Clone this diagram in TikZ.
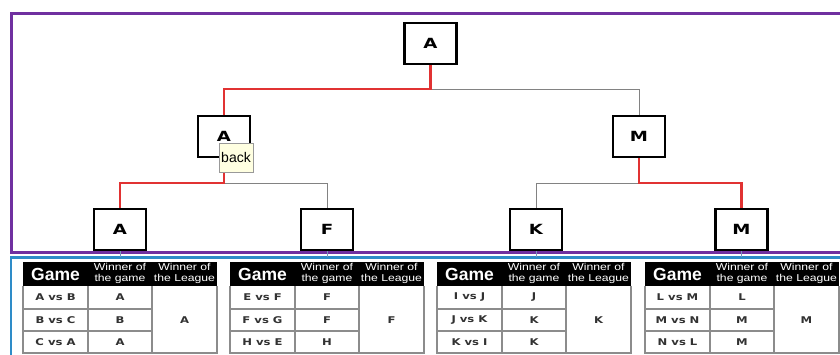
\documentclass[tikz,border=0pt]{standalone}
\usepackage{fontspec}
\setmainfont{Liberation Sans}
\newfontfamily\nodefont[FakeStretch=1.3]{DejaVu Sans}
\newfontfamily\cellfont[FakeStretch=1.25]{DejaVu Sans}
\newfontfamily\headfont[FakeStretch=1.22]{Liberation Sans}
\usetikzlibrary{shadows}
\definecolor{framepurple}{RGB}{112,48,160}
\definecolor{frameblue}{RGB}{46,140,200}
\definecolor{winred}{RGB}{225,50,50}
\definecolor{losegray}{RGB}{130,130,130}
\definecolor{gridgray}{RGB}{140,140,140}
\definecolor{celltext}{RGB}{50,50,50}
\definecolor{tipfill}{RGB}{255,255,225}
\definecolor{ticklc}{RGB}{120,150,185}
\tikzset{
  tnode/.style={draw=black, line width=2.2pt, fill=white, minimum width=52pt, minimum height=41pt,
    inner sep=0pt, font=\nodefont\bfseries\fontsize{14}{15}\selectfont},
  redline/.style={draw=winred, line width=2.4pt},
  grayline/.style={draw=losegray, line width=1pt},
  tickline/.style={draw=ticklc, line width=0.8pt},
  gridline/.style={draw=gridgray, line width=1.4pt},
  gamehead/.style={text=white, inner sep=0pt, font=\bfseries\fontsize{17.5}{18}\selectfont},
  winhead/.style={text=white, inner sep=0pt, align=center, font=\headfont\fontsize{10}{10.8}\selectfont},
  cell/.style={text=celltext, inner sep=0pt, font=\cellfont\bfseries\fontsize{9.3}{10}\selectfont},
  tooltip/.style={draw=gray!80, fill=tipfill, minimum width=34pt, minimum height=29pt, inner sep=0pt,
    font=\fontsize{14}{15}\selectfont, drop shadow={opacity=0.25, shadow xshift=1.2pt, shadow yshift=-1.2pt}}
}
\newcommand{\lgtable}[9]{%
\begin{scope}[shift={(#2,0)}]
  \fill[black] (0,262) rectangle (194,286);
  \node[gamehead] (#1-h1) at (32.5,274.5) {Game};
  \node[winhead] (#1-h2) at (97,273.5) {Winner of\\the game};
  \node[winhead] (#1-h3) at (161.5,273.5) {Winner of\\the League};
  \draw[gridline] (0,286) -- (0,354) (65,286) -- (65,354) (129,286) -- (129,354) (194,286) -- (194,354);
  \draw[gridline] (0,309) -- (129,309) (0,331) -- (129,331) (0,353) -- (194,353);
  \node[cell] (#1-g1) at (32.5,297.5) {#3};
  \node[cell] (#1-w1) at (97,297.5) {#4};
  \node[cell] (#1-g2) at (32.5,320) {#5};
  \node[cell] (#1-w2) at (97,320) {#6};
  \node[cell] (#1-g3) at (32.5,342) {#7};
  \node[cell] (#1-w3) at (97,342) {#8};
  \node[cell] (#1-lg) at (161.5,320) {#9};
\end{scope}}
\begin{document}
\begin{tikzpicture}[x=1pt,y=-1pt]
\useasboundingbox (0,0) rectangle (840,354);
\clip (0,0) rectangle (840,354);
\fill[white] (0,0) rectangle (840,354);
% frames
\draw[framepurple, line width=3pt] (11,13) rectangle (870,252);
\draw[frameblue, line width=2.4pt] (11,257.5) rectangle (870,420);
\coordinate (btop) at (0,257);
% tree nodes
\node[tnode] (top) at (430.5,43.5) {A};
\node[tnode] (mA) at (224,136.5) {A};
\node[tnode] (mM) at (639,136.5) {M};
\node[tnode] (bA) at (120,229.5) {A};
\node[tnode] (bF) at (327,229.5) {F};
\node[tnode] (bK) at (536,229.5) {K};
\node[tnode] (bM) at (741.5,229.5) {M};
% connectors
\draw[grayline] (top.south) ++(0,24) -| (mM.north);
\draw[redline] (top.south) -- ++(0,24) -| (mA.north);
\draw[grayline] (mA.south) ++(0,25) -| (bF.north);
\draw[redline] (mA.south) -- ++(0,25) -| (bA.north);
\draw[grayline] (mM.south) ++(0,25) -| (bK.north);
\draw[redline] (mM.south) -- ++(0,25) -| (bM.north);
\foreach \n in {bA,bF,bK,bM} \draw[tickline] (\n.south) -- (\n.south |- btop);
% tooltip
\node[tooltip] (tip) at (236,157.5) {back};
% tables
\lgtable{t1}{23}{A vs B}{A}{B vs C}{B}{C vs A}{A}{A}
\lgtable{t2}{230}{E vs F}{F}{F vs G}{F}{H vs E}{H}{F}
\lgtable{t3}{437}{I vs J}{J}{J vs K}{K}{K vs I}{K}{K}
\lgtable{t4}{645}{L vs M}{L}{M vs N}{M}{N vs L}{M}{M}
\end{tikzpicture}
\end{document}
